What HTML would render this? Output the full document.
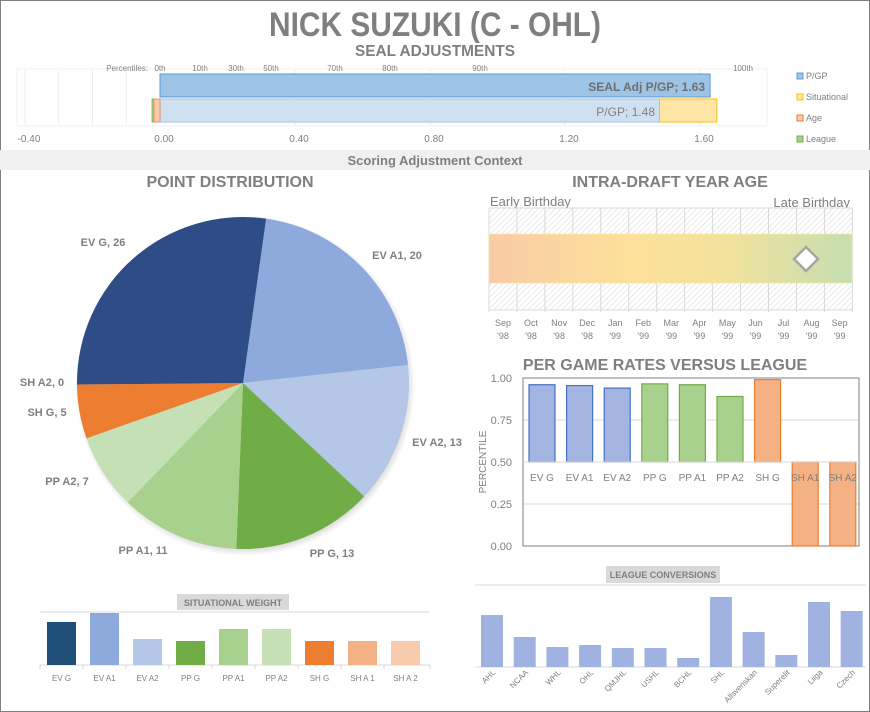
<!DOCTYPE html>
<html><head><meta charset="utf-8"><style>
html,body{margin:0;padding:0;background:#fff}
svg{display:block;font-family:"Liberation Sans",sans-serif}
</style></head><body>
<svg id="s" width="870" height="712" viewBox="0 0 870 712" xmlns="http://www.w3.org/2000/svg">
<defs>
<pattern id="hatch" width="4" height="4" patternUnits="userSpaceOnUse" patternTransform="rotate(45)">
<rect width="4" height="4" fill="#fff"/><line x1="0" y1="0" x2="0" y2="4" stroke="#d6d6d6" stroke-width="1"/></pattern>
<linearGradient id="ageg" x1="0" x2="1" y1="0" y2="0">
<stop offset="0" stop-color="#f9cba6"/><stop offset="0.4" stop-color="#fde19a"/><stop offset="0.65" stop-color="#f2e29c"/><stop offset="1" stop-color="#c5deb0"/></linearGradient>
<radialGradient id="sh"><stop offset="0.95" stop-color="#000" stop-opacity="0.15"/><stop offset="1" stop-color="#000" stop-opacity="0"/></radialGradient>
</defs>
<rect x="0.5" y="0.5" width="869" height="711" fill="#fff" stroke="#7f7f7f"/>
<text x="435" y="36" text-anchor="middle" font-size="34" font-weight="bold" fill="#7f7f7f" textLength="332" lengthAdjust="spacingAndGlyphs">NICK SUZUKI (C - OHL)</text>
<text x="435" y="56" text-anchor="middle" font-size="16" font-weight="bold" fill="#7f7f7f" textLength="160" lengthAdjust="spacingAndGlyphs">SEAL ADJUSTMENTS</text>
<g id="top" font-size="9" fill="#7f7f7f"></g>
<rect x="0" y="150" width="870" height="20" fill="#f0f0f0"/>
<text x="435" y="165" text-anchor="middle" font-size="13" font-weight="bold" fill="#7f7f7f">Scoring Adjustment Context</text>
<text x="230" y="187" text-anchor="middle" font-size="16" font-weight="bold" fill="#7f7f7f">POINT DISTRIBUTION</text>
<text x="670" y="187" text-anchor="middle" font-size="16" font-weight="bold" fill="#7f7f7f">INTRA-DRAFT YEAR AGE</text>
<circle cx="245" cy="386" r="170" fill="url(#sh)"/>
<g id="pie"></g>
<g id="agech"></g>
<g id="pg"></g>
<g id="sw"></g>
<g id="lc"></g>
</svg>
<script>
const NS="http://www.w3.org/2000/svg";
function el(p,t,a,txt){const e=document.createElementNS(NS,t);for(const k in a)e.setAttribute(k,a[k]);if(txt!==undefined)e.textContent=txt;document.getElementById(p).appendChild(e);return e;}
const G="#7f7f7f";
el("top","rect",{x:17,y:69,width:750,height:57,fill:"#fff",stroke:"#f0f0f0"});
const X=v=>160+v*337.5;
[-0.4,-0.3,-0.2,-0.1,0.4,0.8,1.2,1.6].forEach(v=>el("top","line",{x1:X(v),x2:X(v),y1:70,y2:125,stroke:"#eeeeee"}));
el("top","rect",{x:160,y:74,width:X(1.63)-160,height:23,fill:"#9dc3e6",stroke:"#5b9bd5"});
el("top","rect",{x:160,y:99,width:X(1.48)-160,height:23,fill:"#cfe0f1",stroke:"#9dc3e6"});
el("top","rect",{x:X(1.48),y:99,width:X(1.65)-X(1.48),height:23,fill:"#ffe6a6",stroke:"#ffc000"});
el("top","rect",{x:152,y:99,width:2,height:23,fill:"#a9d18e",stroke:"#70ad47","stroke-width":0.7});
el("top","rect",{x:154,y:99,width:6,height:23,fill:"#f8cbad",stroke:"#ed7d31","stroke-width":0.7});
el("top","text",{x:705,y:91,"text-anchor":"end","font-size":12,"font-weight":"bold",fill:"#6f6f6f"},"SEAL Adj P/GP; 1.63");
el("top","text",{x:655,y:116,"text-anchor":"end","font-size":12,fill:"#7f7f7f"},"P/GP; 1.48");
el("top","text",{x:148,y:71,"text-anchor":"end","font-size":8},"Percentiles:");
[["0th",160],["10th",200],["30th",236],["50th",271],["70th",335],["80th",390],["90th",480],["100th",743]].forEach(([t,x])=>el("top","text",{x:x,y:71,"text-anchor":"middle","font-size":8},t));
[-0.4,0,0.4,0.8,1.2,1.6].forEach(v=>el("top","text",{x:X(v)+4,y:142,"text-anchor":"middle","font-size":10},v.toFixed(2)));
[["P/GP",79,"#9dc3e6","#5b9bd5"],["Situational",100,"#ffe6a6","#ffc000"],["Age",121,"#f8cbad","#ed7d31"],["League",142,"#a9d18e","#70ad47"]].forEach(([t,y,f,s])=>{el("top","rect",{x:797,y:y-6,width:6,height:6,fill:f,stroke:s});el("top","text",{x:806,y:y,"font-size":9},t);});
const cx=243,cy=383,r=166;
const sl=[["EV A1",20,"#8eaadc"],["EV A2",13,"#b4c7e7"],["PP G",13,"#70ad47"],["PP A1",11,"#a9d18e"],["PP A2",7,"#c5e0b4"],["SH G",5,"#ed7d31"],["EV G",26,"#2e4d87"]];
let a=8*Math.PI/180;
const pt=(ang,rr)=>[cx+rr*Math.sin(ang),cy-rr*Math.cos(ang)];
sl.forEach(([n,v,c])=>{const b=a+v/95*2*Math.PI;const p1=pt(a,r),p2=pt(b,r);
el("pie","path",{d:`M${cx},${cy}L${p1[0]},${p1[1]}A${r},${r} 0 ${b-a>Math.PI?1:0} 1 ${p2[0]},${p2[1]}Z`,fill:c});a=b;});
[["EV G, 26",103,246],["EV A1, 20",397,259],["EV A2, 13",437,446],["PP G, 13",332,557],["PP A1, 11",143,554],["PP A2, 7",67,485],["SH G, 5",47,416],["SH A2, 0",42,386]].forEach(([t,x,y])=>el("pie","text",{x:x,y:y,"text-anchor":"middle","font-size":11,"font-weight":"bold",fill:"#7f7f7f"},t));
el("agech","text",{x:490,y:206,"font-size":13,fill:G},"Early Birthday");
el("agech","text",{x:850,y:207,"font-size":13,fill:G,"text-anchor":"end"},"Late Birthday");
el("agech","rect",{x:489,y:208,width:363,height:102,fill:"url(#hatch)"});
const m=["Sep","Oct","Nov","Dec","Jan","Feb","Mar","Apr","May","Jun","Jul","Aug","Sep"],yr=["'98","'98","'98","'98","'99","'99","'99","'99","'99","'99","'99","'99","'99"];
for(let i=0;i<=13;i++){const x=489+i*27.95;el("agech","line",{x1:x,x2:x,y1:208,y2:312,stroke:"#d9d9d9"});}
for(let i=0;i<13;i++){const lx=503+i*28.05;
el("agech","text",{x:lx,y:326,"text-anchor":"middle","font-size":9,fill:G},m[i]);el("agech","text",{x:lx,y:339,"text-anchor":"middle","font-size":9,fill:G},yr[i]);}
el("agech","line",{x1:489,x2:852,y1:208,y2:208,stroke:"#d9d9d9"});
el("agech","line",{x1:489,x2:852,y1:310,y2:310,stroke:"#d9d9d9"});
el("agech","rect",{x:489,y:234,width:363,height:49,fill:"url(#ageg)",stroke:"#fbe7a0","stroke-width":0.6});
el("agech","path",{d:"M806,247L818,259L806,271L794,259Z",fill:"#fff",stroke:"#a6a6a6","stroke-width":2.5});
el("pg","text",{x:665,y:370,"text-anchor":"middle","font-size":16,"font-weight":"bold",fill:G},"PER GAME RATES VERSUS  LEAGUE");
const Y=v=>546-v*168;
[0.25,0.75].forEach(v=>el("pg","line",{x1:523,x2:859,y1:Y(v),y2:Y(v),stroke:"#d9d9d9"}));
el("pg","rect",{x:523,y:378,width:336,height:168,fill:"none",stroke:"#7f7f7f"});
[1,0.75,0.5,0.25,0].forEach(v=>el("pg","text",{x:512,y:Y(v)+4,"text-anchor":"end","font-size":11,fill:G},v.toFixed(2)));
el("pg","text",{x:486,y:462,"text-anchor":"middle","font-size":10,fill:G,transform:"rotate(-90 486 462)"},"PERCENTILE");
const pv=[["EV G",.96,"#a3b4e0","#4472c4"],["EV A1",.955,"#a3b4e0","#4472c4"],["EV A2",.94,"#a3b4e0","#4472c4"],["PP G",.965,"#a9d18e","#70ad47"],["PP A1",.96,"#a9d18e","#70ad47"],["PP A2",.89,"#a9d18e","#70ad47"],["SH G",.99,"#f4b183","#ed7d31"],["SH A1",0,"#f4b183","#ed7d31"],["SH A2",0,"#f4b183","#ed7d31"]];
pv.forEach(([n,v,f,s],i)=>{const c=542+i*37.6;const y1=Math.min(Y(v),Y(.5)),h=Math.abs(Y(v)-Y(.5));
el("pg","rect",{x:c-13,y:y1,width:26,height:h,fill:f,stroke:s,"stroke-width":1.2});});
el("pg","line",{x1:523,x2:859,y1:Y(.5),y2:Y(.5),stroke:"#d9d9d9"});
pv.forEach(([n],i)=>el("pg","text",{x:542+i*37.6,y:481,"text-anchor":"middle","font-size":10,fill:G},n));
el("sw","rect",{x:177,y:594,width:112,height:16,fill:"#d9d9d9"});
el("sw","text",{x:233,y:606,"text-anchor":"middle","font-size":9,"font-weight":"bold",fill:G},"SITUATIONAL  WEIGHT");
el("sw","line",{x1:40,x2:430,y1:612,y2:612,stroke:"#d9d9d9"});
el("sw","line",{x1:40,x2:430,y1:665,y2:665,stroke:"#d9d9d9"});
const sw=[["EV G",622,"#1f4e79"],["EV A1",613,"#8eaadc"],["EV A2",639,"#b4c7e7"],["PP G",641,"#70ad47"],["PP A1",629,"#a9d18e"],["PP A2",629,"#c5e0b4"],["SH G",641,"#ed7d31"],["SH A 1",641,"#f4b183"],["SH A 2",641,"#f8cbad"]];
sw.forEach(([n,t,c],i)=>{const x=47+i*43;el("sw","rect",{x:x,y:t,width:29,height:665-t,fill:c});
el("sw","line",{x1:40+i*43,x2:40+i*43,y1:665,y2:669,stroke:"#d9d9d9"});
el("sw","text",{x:x+14.5,y:681,"text-anchor":"middle","font-size":8,fill:G},n);});
el("sw","line",{x1:430,x2:430,y1:665,y2:669,stroke:"#d9d9d9"});
el("lc","rect",{x:606,y:566,width:114,height:17,fill:"#d9d9d9"});
el("lc","text",{x:663,y:578,"text-anchor":"middle","font-size":9,"font-weight":"bold",fill:G},"LEAGUE CONVERSIONS");
el("lc","line",{x1:475,x2:866,y1:585,y2:585,stroke:"#d9d9d9"});
el("lc","line",{x1:475,x2:866,y1:667,y2:667,stroke:"#d9d9d9"});
const lc=[["AHL",615],["NCAA",637],["WHL",647],["OHL",645],["QMJHL",648],["USHL",648],["BCHL",658],["SHL",597],["Allsvenskan",632],["Superelit",655],["Liiga",602],["Czech",611]];
lc.forEach(([n,t],i)=>{const x=481+i*32.7;el("lc","rect",{x:x,y:t,width:22,height:667-t,fill:"#a0b2df"});
const tx=x+15,ty=673;el("lc","text",{x:tx,y:ty,"text-anchor":"end","font-size":8,fill:G,transform:`rotate(-45 ${tx} ${ty})`},n);});
</script>
</body></html>
